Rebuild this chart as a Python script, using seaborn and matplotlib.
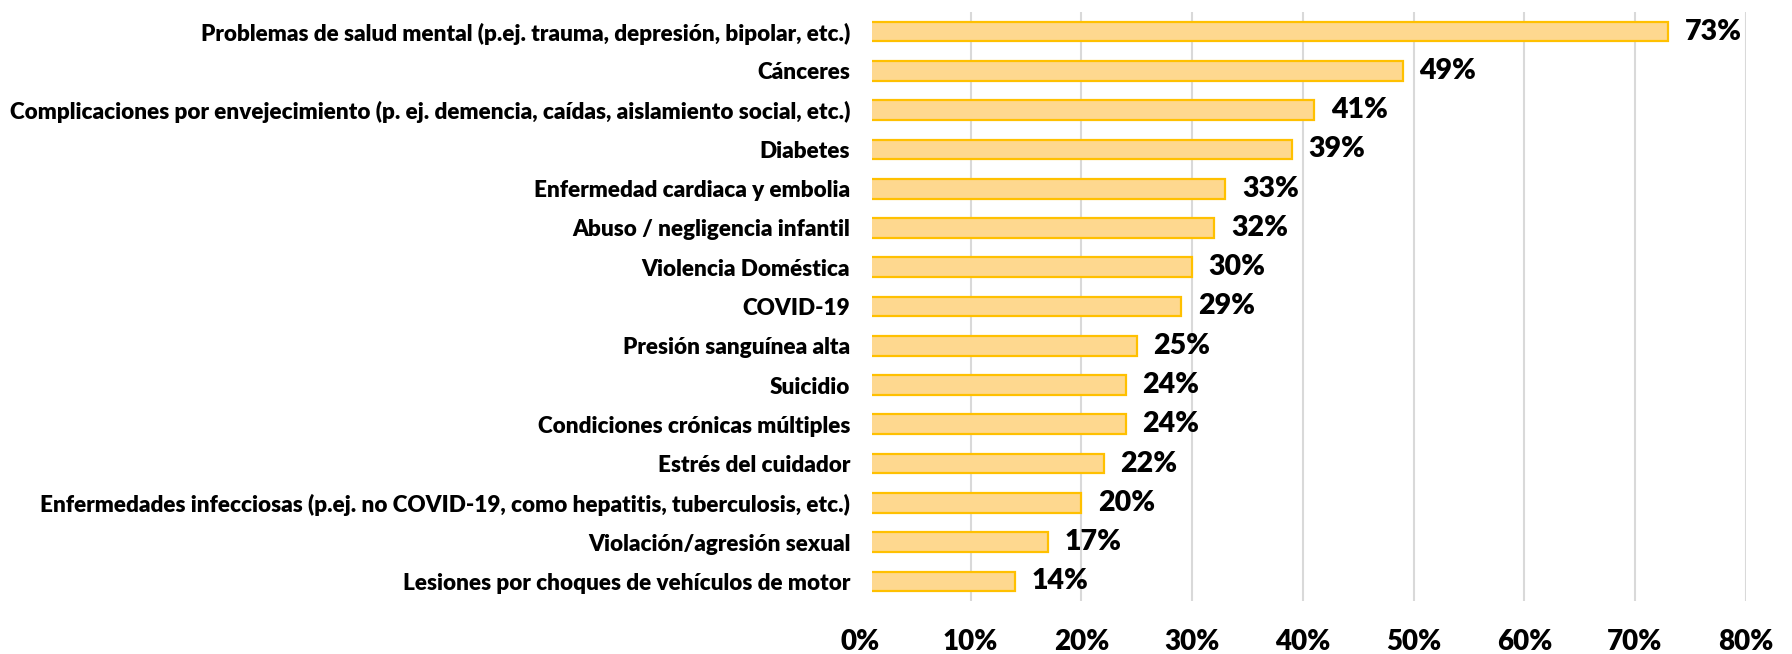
import matplotlib
matplotlib.use("Agg")
import matplotlib.pyplot as plt
import seaborn as sns
import pandas as pd

categories = [
    "Problemas de salud mental (p.ej. trauma, depresión, bipolar, etc.)",
    "Cánceres",
    "Complicaciones por envejecimiento (p. ej. demencia, caídas, aislamiento social, etc.)",
    "Diabetes",
    "Enfermedad cardiaca y embolia",
    "Abuso / negligencia infantil",
    "Violencia Doméstica",
    "COVID-19",
    "Presión sanguínea alta",
    "Suicidio",
    "Condiciones crónicas múltiples",
    "Estrés del cuidador",
    "Enfermedades infecciosas (p.ej. no COVID-19, como hepatitis, tuberculosis, etc.)",
    "Violación/agresión sexual",
    "Lesiones por choques de vehículos de motor",
]
values = [73, 49, 41, 39, 33, 32, 30, 29, 25, 24, 24, 22, 20, 17, 14]
xticks = [0, 10, 20, 30, 40, 50, 60, 70, 80]
xtick_labels = [f"{t}%" for t in xticks]

df = pd.DataFrame({"categoria": categories, "valor": values})

sns.set_theme(style="white")
plt.rcParams["font.family"] = ["Lato", "DejaVu Sans"]

fig = plt.figure(figsize=(17.92, 6.54), dpi=100)
ax = fig.add_axes([0.4799, 0.0810, 0.4943, 0.9007])

sns.barplot(data=df, x="valor", y="categoria", orient="h", ax=ax,
            color="#FED88F", edgecolor="#FFC000", linewidth=1.6,
            width=0.5, saturation=1, zorder=2)

ax.set_xlim(0, 80)
ax.set_ylim(len(categories) - 0.5, -0.5)
ax.set_xticks(xticks)
ax.set_xticklabels(xtick_labels, fontsize=20, fontweight="heavy")
ax.tick_params(axis="x", length=0, pad=20, labelcolor="black")
ax.tick_params(axis="y", length=0, pad=7, labelsize=16.2, labelcolor="black")
for lbl in ax.get_yticklabels():
    lbl.set_fontweight("heavy")
ax.set_xlabel("")
ax.set_ylabel("")

for t in xticks[1:]:
    ax.axvline(t, color="#D9D9D9", linewidth=1.5, zorder=1)
# small white band hiding the very start of the bars next to the labels
ax.axvspan(0, 1.08, color="white", zorder=3, linewidth=0)

for s in ax.spines.values():
    s.set_visible(False)

for i, v in enumerate(values):
    ax.annotate(f"{v}%", xy=(v, i), xytext=(12, 0), textcoords="offset points",
                va="center", ha="left", fontsize=20.5, fontweight="heavy",
                color="black", zorder=4)

fig.savefig("out.png", dpi=100, facecolor="white")
